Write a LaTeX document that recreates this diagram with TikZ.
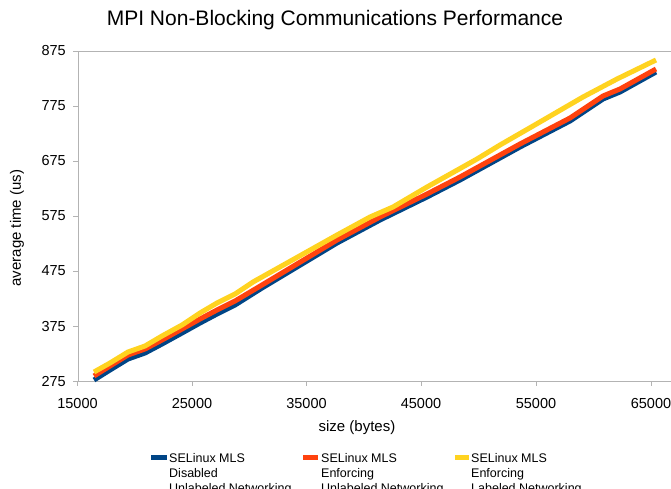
\documentclass[tikz,border=0pt]{standalone}
\usepackage{fontspec}
\setmainfont{Liberation Sans}
\definecolor{sblue}{HTML}{004586}
\definecolor{sred}{HTML}{FF420E}
\definecolor{syellow}{HTML}{FFD320}
\definecolor{axisgray}{HTML}{B3B3B3}
\begin{document}
\begin{tikzpicture}[x=1pt,y=-1pt,
  axisline/.style={draw=axisgray,line width=1pt},
  ticklabel/.style={inner sep=0pt,font=\fontsize{14.5}{16}\selectfont},
  axistitle/.style={inner sep=0pt,font=\fontsize{15}{17}\selectfont},
  series/.style={line width=5pt,line join=round},
  legendtext/.style={inner sep=0pt,anchor=north west,align=left,font=\fontsize{12.5}{15}\selectfont}]
\useasboundingbox (0,0) rectangle (671,488);
\fill[white] (0,0) rectangle (671,488);
% title
\node[inner sep=0pt,font=\fontsize{21}{24}\selectfont] (title) at (335,20) {MPI Non-Blocking Communications Performance};
% axes
\draw[axisline] (78,51) -- (671,51);
\draw[axisline] (78,51) -- (78,381) -- (671,381);
\foreach \v/\y in {875/51,775/106,675/161,575/216,475/271,375/326,275/381}{
  \draw[axisline] (73,\y) -- (78,\y);
  \node[ticklabel,anchor=east] (yl\v) at (66,\y) {\v};
}
\foreach \v/\x in {15000/77.5,25000/192,35000/306.5,45000/421,55000/536,65000/651}{
  \draw[axisline] (\x,381) -- (\x,386);
  \node[ticklabel] (xl\v) at (\x,403) {\v};
}
\node[axistitle,rotate=90] (ytitle) at (17,228) {average time (us)};
\node[axistitle] (xtitle) at (357,428) {size (bytes)};
% series
\draw[series,sblue] plot coordinates {(94,380) (110,370) (128,359) (145,353) (162,344) (182,333) (200,323) (217,314) (235,305) (262,288) (287,273) (337,243) (380,220) (427,197) (460,180) (500,158) (520,147) (570,121) (603,99) (620,92) (656,72)};
\draw[series,sred] plot coordinates {(94,376) (110,366) (128,355) (145,349) (162,340) (182,329) (200,319) (217,310) (235,301) (262,285) (287,270) (337,240) (380,217) (427,194) (460,177) (500,155) (520,144) (570,118) (603,96) (620,89) (656,69)};
\draw[series,syellow] plot coordinates {(94,372) (110,363) (128,352) (145,346) (162,336) (182,325) (200,313) (217,303) (235,294) (253,282) (287,263) (337,235) (370,217) (393,207) (427,187) (477,159) (500,145) (533,126) (583,97) (617,79) (656,60)};
% legend
\coordinate (sw1a) at (151,457); \coordinate (sw1b) at (167,457);
\coordinate (sw2a) at (303,457); \coordinate (sw2b) at (318,457);
\coordinate (sw3a) at (455,457); \coordinate (sw3b) at (469,457);
\draw[sblue,line width=5pt] (sw1a) -- (sw1b);
\draw[sred,line width=5pt] (sw2a) -- (sw2b);
\draw[syellow,line width=5pt] (sw3a) -- (sw3b);
\node[legendtext] (leg1) at (169,453.4) {SELinux MLS\\Disabled\\Unlabeled Networking};
\node[legendtext] (leg2) at (321,453.4) {SELinux MLS\\Enforcing\\Unlabeled Networking};
\node[legendtext] (leg3) at (471,453.4) {SELinux MLS\\Enforcing\\Labeled Networking};
\end{tikzpicture}
\end{document}
